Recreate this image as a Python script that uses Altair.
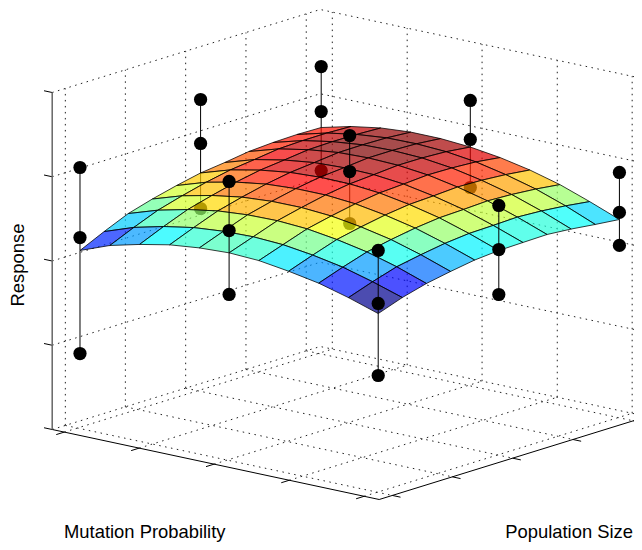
import altair as alt
import pandas as pd

# Surface response: rows run along Population Size, columns along Mutation Probability
surface = [
    [2.112, 2.247, 2.335, 2.407, 2.446, 2.463, 2.447, 2.396, 2.331, 2.235, 2.121],
    [2.248, 2.373, 2.459, 2.523, 2.555, 2.565, 2.547, 2.499, 2.432, 2.335, 2.223],
    [2.373, 2.489, 2.572, 2.632, 2.661, 2.667, 2.646, 2.595, 2.524, 2.424, 2.301],
    [2.457, 2.571, 2.650, 2.707, 2.733, 2.735, 2.710, 2.656, 2.582, 2.478, 2.355],
    [2.528, 2.643, 2.720, 2.773, 2.795, 2.795, 2.766, 2.708, 2.630, 2.524, 2.402],
    [2.589, 2.701, 2.774, 2.823, 2.842, 2.838, 2.806, 2.745, 2.663, 2.553, 2.426],
    [2.624, 2.735, 2.805, 2.851, 2.866, 2.859, 2.823, 2.758, 2.673, 2.560, 2.433],
    [2.666, 2.773, 2.839, 2.882, 2.894, 2.882, 2.843, 2.775, 2.687, 2.570, 2.439],
    [2.684, 2.783, 2.846, 2.885, 2.894, 2.880, 2.837, 2.766, 2.674, 2.554, 2.415],
    [2.691, 2.784, 2.843, 2.879, 2.884, 2.866, 2.820, 2.745, 2.650, 2.526, 2.381],
    [2.685, 2.773, 2.831, 2.858, 2.857, 2.832, 2.783, 2.711, 2.614, 2.488, 2.351],
]
mutation_levels = [0.044, 0.135, 0.226, 0.318, 0.409, 0.500, 0.591, 0.682, 0.774, 0.865, 0.956]
population_levels = [0.050, 0.140, 0.230, 0.320, 0.410, 0.500, 0.590, 0.680, 0.770, 0.860, 0.950]

# Measured responses: (mutation level index, population level index, three replicates)
observed = [
    (0, 0, [0.889, 2.266, 3.097]),
    (0, 5, [2.167, 2.939, 3.461]),
    (0, 10, [2.174, 2.875, 3.409]),
    (5, 0, [1.969, 2.728, 3.310]),
    (5, 5, [2.368, 2.985, 3.412]),
    (5, 10, [2.352, 2.922, 3.385]),
    (10, 0, [1.386, 2.241, 2.870]),
    (10, 5, [1.904, 2.438, 2.961]),
    (10, 10, [2.043, 2.435, 2.909]),
]

mutation_ticks = [0.037, 0.266, 0.495, 0.725, 0.954]
population_ticks = [0.049, 0.273, 0.498, 0.723, 0.948]
response_ticks = [0, 1, 2, 3, 4]

jet_stops = ["#00008f", "#0000ff", "#00ffff", "#ffff00", "#ff0000", "#800000"]
jet_fracs = [0, 0.125, 0.375, 0.625, 0.875, 1]
ZMIN, ZMAX = 2.121, 2.894
jet_domain = [ZMIN + f * (ZMAX - ZMIN) for f in jet_fracs]


def px(a, b):
    return 52.2 + 327 * a + 268 * b


def py(a, b, z):
    return 429.5 + 70 * a - 83 * b - 84.25 * z


X = alt.X("x:Q", scale=alt.Scale(domain=[8, 634], zero=False, nice=False), axis=None)
Y = alt.Y("y:Q", scale=alt.Scale(domain=[542, 8], zero=False, nice=False), axis=None)


def segs(list_of_segments):
    rows = []
    for sid, pts in enumerate(list_of_segments):
        for o, (a, b, z) in enumerate(pts):
            rows.append({"s": sid, "o": o, "x": px(a, b), "y": py(a, b, z)})
    return pd.DataFrame(rows)


grid = []
for t in mutation_ticks:
    grid.append([(t, 1, 0), (t, 1, 4)])
    grid.append([(t, 0, 0), (t, 1, 0)])
for t in population_ticks:
    grid.append([(0, t, 0), (0, t, 4)])
    grid.append([(0, t, 0), (1, t, 0)])
for z in response_ticks:
    grid.append([(0, 0, z), (0, 1, z), (1, 1, z)])

axes_black = [[(0, 0, 0), (1, 0, 0), (1, 1, 0)]]
axes_black += [[(t, 0, 0), (t, -0.03, 0)] for t in mutation_ticks]
axes_black += [[(1, t, 0), (1.025, t, 0)] for t in population_ticks]
axes_black += [[(0, 0, z), (-0.025, 0, z)] for z in response_ticks]
axis_z = [[(0, 0, 0), (0, 0, 4)]]


def line_layer(seglist, **kw):
    return alt.Chart(segs(seglist)).mark_line(**kw).encode(
        x=X, y=Y, detail="s:N", order="o:Q"
    )


grid_layer = line_layer(grid, stroke="#222222", strokeWidth=1, strokeDash=[1.5, 4.5], clip=True)
axis_layer = line_layer(axes_black, stroke="black", strokeWidth=1, clip=True)
axisz_layer = line_layer(axis_z, stroke="#666666", strokeWidth=1.5)

# cells
cell_rows = []
cid = 0
for i in range(10):
    for j in range(9, -1, -1):
        val = surface[j][i + 1]
        corners = [(i, j), (i + 1, j), (i + 1, j + 1), (i, j + 1), (i, j)]
        for o, (ci, cj) in enumerate(corners):
            a, b = mutation_levels[ci], population_levels[cj]
            cell_rows.append(
                {"cell": cid, "o": o, "x": px(a, b), "y": py(a, b, surface[cj][ci]), "v": val}
            )
        cid += 1
surface_layer = alt.Chart(pd.DataFrame(cell_rows)).mark_line(
    stroke="black", strokeWidth=0.9, strokeOpacity=0.85, fillOpacity=0.7
).encode(
    x=X,
    y=Y,
    detail="cell:N",
    order="o:Q",
    fill=alt.Fill(
        "v:Q",
        scale=alt.Scale(domain=jet_domain, range=jet_stops, interpolate="rgb", clamp=True),
        legend=None,
    ),
)

rule_under, rule_over, dot_under, dot_over = [], [], [], []
for i, j, zs in observed:
    a, b = mutation_levels[i], population_levels[j]
    s = surface[j][i]
    x = px(a, b)
    rule_under.append({"x": x, "y": py(a, b, min(zs)), "y2": py(a, b, min(s, max(zs)))})
    rule_over.append({"x": x, "y": py(a, b, max(s, min(zs))), "y2": py(a, b, max(zs))})
    for z in zs:
        (dot_under if z < s else dot_over).append({"x": x, "y": py(a, b, z)})


def rule_layer(rows):
    return alt.Chart(pd.DataFrame(rows)).mark_rule(color="black", strokeWidth=1).encode(
        x=X, y=Y, y2="y2:Q"
    )


def dot_layer(rows):
    return alt.Chart(pd.DataFrame(rows)).mark_point(
        filled=True, color="black", opacity=1, size=175
    ).encode(x=X, y=Y)


def label(text, x, y, angle=0, align="left"):
    return alt.Chart(pd.DataFrame({"t": [text]})).mark_text(
        font="Liberation Sans", fontSize=18.4, color="black", align=align,
        baseline="alphabetic", angle=angle,
    ).encode(text="t:N", x=alt.value(x), y=alt.value(y))


chart = alt.layer(
    grid_layer,
    axis_layer,
    axisz_layer,
    rule_layer(rule_under),
    dot_layer(dot_under),
    surface_layer,
    rule_layer(rule_over),
    dot_layer(dot_over),
    label("Response", 16, 257, angle=270, align="center"),
    label("Mutation Probability", 56, 530),
    label("Population Size", 625, 530, align="right"),
).properties(
    width=626, height=534, padding=0, autosize=alt.AutoSizeParams(type="none")
).configure_view(stroke=None)

chart.save("out.html", embed_options={"renderer": "svg", "actions": False})
